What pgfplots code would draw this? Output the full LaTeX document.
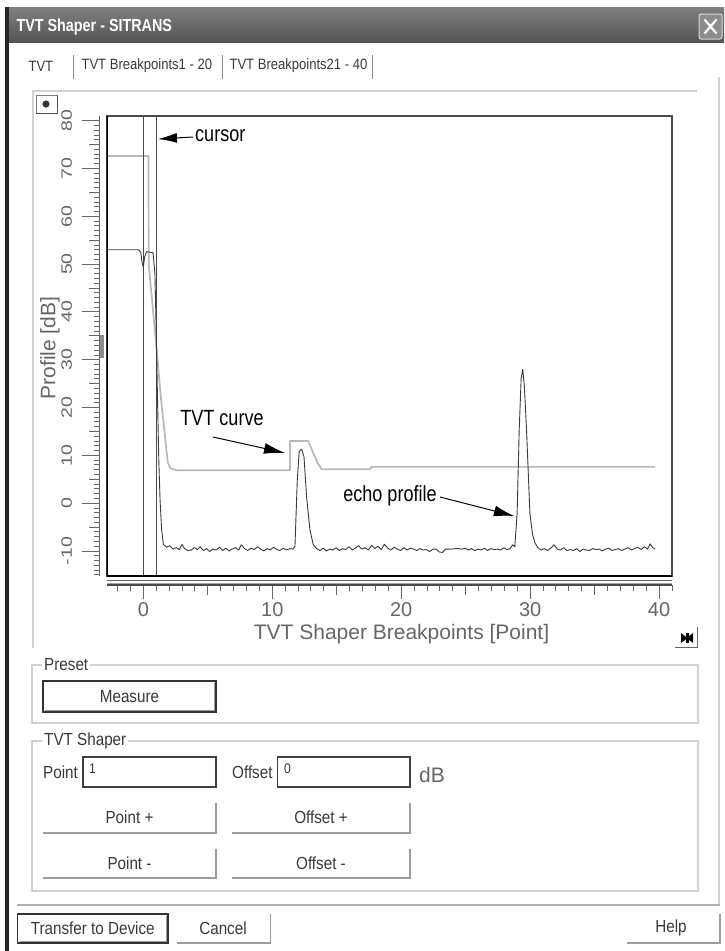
\documentclass[border=0pt]{standalone}
\usepackage{pgfplots}
\pgfplotsset{compat=1.18}
\usepackage{fontspec}
\setmainfont{Liberation Sans}
\newfontfamily\ui[FakeStretch=0.87]{Liberation Sans}
\newfontfamily\cond[FakeStretch=0.82]{Liberation Sans}
\usetikzlibrary{arrows.meta}
\newcommand\fs[1]{\fontsize{#1}{#1}\selectfont}
\definecolor{titlebar}{HTML}{555555}
\definecolor{tickgrey}{HTML}{666666}
\definecolor{tvt}{HTML}{B8B8B8}
\definecolor{echo}{HTML}{3A3A3A}
\definecolor{framec}{HTML}{4A4A4A}
\definecolor{lightline}{HTML}{D2D2D2}
\definecolor{btnline}{HTML}{9C9C9C}
\definecolor{uitext}{HTML}{3A3A3A}

\pgfplotstableread{
x y
-2.84 72.6
0.40 72.6
0.42 50.0
0.85 37.5
1.40 21.0
1.90 8.5
2.10 7.3
2.60 6.9
11.37 6.9
11.37 13.0
12.79 13.0
13.10 11.0
13.50 8.5
13.83 7.1
17.57 7.1
17.70 7.6
39.67 7.6
}\tvtdata

\pgfplotstableread{
x y
-2.84 53.0
-0.40 53.0
-0.20 52.5
-0.10 50.5
0.00 49.3
0.10 51.5
0.25 52.6
0.75 52.4
0.90 48.0
1.00 36.0
1.10 22.0
1.20 9.0
1.30 0.5
1.42 -5.5
1.55 -8.6
1.80 -9.2
2.05 -8.9
2.30 -9.6
2.55 -9.3
2.80 -9.7
3.00 -8.6
3.20 -9.5
3.45 -9.9
3.70 -9.8
3.95 -9.3
4.20 -9.7
4.40 -9.1
4.65 -9.9
4.90 -9.5
5.15 -10.1
5.40 -9.6
5.65 -9.8
5.90 -9.2
6.15 -9.9
6.40 -9.4
6.65 -10.0
6.90 -9.6
7.15 -9.3
7.40 -9.8
7.60 -8.7
7.85 -9.5
8.10 -9.9
8.35 -9.4
8.60 -9.7
8.85 -9.1
9.10 -9.6
9.35 -10.0
9.60 -9.5
9.85 -9.8
10.10 -9.2
10.35 -9.7
10.60 -9.9
10.85 -9.4
11.10 -9.8
11.35 -9.5
11.60 -9.6
11.76 -9.0
11.94 4.8
12.09 10.8
12.28 11.3
12.46 9.7
12.66 1.4
12.92 -5.6
13.18 -8.7
13.44 -9.5
13.70 -9.9
13.95 -9.4
14.20 -10.0
14.45 -9.6
14.70 -9.8
14.95 -9.3
15.20 -9.9
15.45 -9.5
15.70 -9.7
15.95 -9.1
16.20 -9.8
16.45 -9.4
16.70 -8.9
16.95 -9.6
17.20 -9.3
17.45 -9.8
17.70 -8.8
17.95 -9.5
18.20 -9.0
18.45 -9.7
18.70 -8.6
18.95 -9.4
19.20 -9.8
19.45 -9.2
19.70 -9.6
19.95 -9.9
20.20 -9.3
20.45 -9.8
20.70 -9.4
20.95 -9.6
21.20 -9.9
21.45 -9.5
21.70 -9.8
21.95 -9.7
22.20 -10.1
22.45 -9.6
22.70 -9.6
22.95 -10.2
23.20 -10.3
23.45 -9.6
23.70 -9.6
23.95 -9.6
24.20 -9.5
24.45 -9.5
24.70 -9.6
24.95 -9.4
25.20 -9.8
25.45 -9.5
25.70 -9.9
25.95 -9.6
26.20 -9.8
26.45 -9.4
26.70 -9.9
26.95 -9.5
27.20 -9.7
27.45 -9.6
27.70 -9.8
27.95 -9.3
28.20 -9.7
28.45 -9.5
28.65 -8.7
28.81 -9.1
28.99 -2.1
29.15 15.3
29.30 26.0
29.42 28.0
29.55 24.5
29.72 15.3
29.98 -2.1
30.18 -6.5
30.37 -8.3
30.60 -9.3
30.85 -9.8
31.10 -9.5
31.35 -9.9
31.60 -9.4
31.85 -8.7
32.10 -9.6
32.35 -9.8
32.60 -9.3
32.85 -9.9
33.10 -9.7
33.35 -9.9
33.60 -9.5
33.85 -10.1
34.10 -9.6
34.35 -9.8
34.60 -9.9
34.85 -9.5
35.10 -9.7
35.35 -9.6
35.60 -10.0
35.85 -9.6
36.10 -9.4
36.35 -9.9
36.60 -9.7
36.85 -9.5
37.10 -9.9
37.35 -9.6
37.60 -9.3
37.85 -9.8
38.10 -9.5
38.35 -9.2
38.60 -9.7
38.85 -9.1
39.10 -9.6
39.30 -8.5
39.50 -9.3
39.70 -9.6
}\echodata

\begin{document}
\begin{tikzpicture}
\path[use as bounding box] (0,0) rectangle (724pt,-951pt);
\fill[white] (0,0) rectangle (724pt,-951pt);
\begin{scope}[x=1pt,y=-1pt]
  % window
  \shade[top color=titlebar!75, bottom color=titlebar] (5,7) rectangle (724,42);
  \fill[black!85] (5,7) rectangle (9,951);
  \node[anchor=west, text=white, font=\cond\bfseries\fs{17.5}] at (13,27) {TVT Shaper - SITRANS};
  \draw[fill=black!45, draw=black!15, rounded corners=2pt, line width=1pt] (699,14) rectangle (722,39);
  \draw[white, line width=2.2pt] (704.5,19.5) -- (716.5,33.5) (716.5,19.5) -- (704.5,33.5);
  \draw[lightline, line width=1.5pt] (719,77) -- (719,905);
  % tabs
  \node[anchor=west, text=uitext, font=\ui\fs{15}] at (25,66) {TVT};
  \draw[black!45, line width=1pt] (73,55) -- (73,79) (222,55) -- (222,79) (372,55) -- (372,79);
  \node[anchor=west, text=uitext, font=\ui\fs{15}] at (78,66) {TVT Breakpoints1 - 20};
  \node[anchor=west, text=uitext, font=\ui\fs{15}] at (226,66) {TVT Breakpoints21 - 40};
  % chart panel
  \draw[lightline, line width=1.5pt] (33,648) -- (33,91) -- (697,91);
  \draw[black!50, line width=0.8pt] (36,95) rectangle (57,113);
  \draw[black!70, line width=1pt] (36,113) -- (57,113) -- (57,95);
  \fill[black!80] (46,104) circle (3.6);
  % bottom right icon
  \draw[black!60, line width=1pt] (675,647) -- (697,647) -- (697,627);
  \fill[black] (681,633) -- (687.5,638) -- (681,643) -- cycle;
  \fill[black] (693,633) -- (686.5,638) -- (693,643) -- cycle;
  \fill[black] (686,633) rectangle (689,643);
  % Preset group
  \draw[lightline, line width=1.3pt] (32,665) rectangle (698,723);
  \node[anchor=west, fill=white, inner sep=2pt, text=uitext, font=\ui\fs{17.5}] at (42,665) {Preset};
  \draw[black!80, line width=1.6pt] (43,681) rectangle (216,712);
  \draw[black!40, line width=1pt] (45,710) -- (214,710) -- (214,683);
  \node[text=uitext, font=\ui\fs{17.5}] at (129.5,697) {Measure};
  % TVT Shaper group
  \draw[lightline, line width=1.3pt] (32,741) rectangle (698,891);
  \node[anchor=west, fill=white, inner sep=2pt, text=uitext, font=\ui\fs{17.5}] at (42,741) {TVT Shaper};
  \node[anchor=west, inner sep=0pt, text=uitext, font=\ui\fs{17.5}] at (43,772) {Point};
  \draw[black!75, line width=1.3pt] (83,757) rectangle (216,787);
  \node[anchor=west, inner sep=0pt, text=uitext, font=\ui\fs{14}] at (89,769) {1};
  \node[anchor=west, inner sep=0pt, text=uitext, font=\ui\fs{17.5}] at (232,772) {Offset};
  \draw[black!75, line width=1.3pt] (277.5,757) rectangle (410,787);
  \node[anchor=west, inner sep=0pt, text=uitext, font=\ui\fs{14}] at (284,769) {0};
  \node[text=black!60, font=\fs{21}] at (432,775) {dB};
  % flat buttons
  \draw[btnline, line width=1.5pt] (43,833) -- (216,833) -- (216,803);
  \draw[btnline, line width=1.5pt] (232,833) -- (410,833) -- (410,803);
  \draw[btnline, line width=1.5pt] (43,878) -- (216,878) -- (216,849);
  \draw[btnline, line width=1.5pt] (232,878) -- (410,878) -- (410,849);
  \node[text=uitext, font=\ui\fs{17.5}] at (129.5,817) {Point +};
  \node[text=uitext, font=\ui\fs{17.5}] at (321,817) {Offset +};
  \node[text=uitext, font=\ui\fs{17.5}] at (129.5,863) {Point -};
  \node[text=uitext, font=\ui\fs{17.5}] at (321,863) {Offset -};
  % bottom row
  \draw[black!30, line width=1.5pt] (17,905) -- (720,905);
  \draw[black!80, line width=1.6pt] (17.6,914) rectangle (168,943);
  \draw[black!40, line width=1pt] (19.5,941) -- (166,941) -- (166,916);
  \node[text=uitext, font=\ui\fs{17.5}] at (92.8,928) {Transfer to Device};
  \draw[btnline, line width=1.5pt] (177,943) -- (270.6,943) -- (270.6,914);
  \node[text=uitext, font=\ui\fs{17.5}] at (223,928) {Cancel};
  \draw[btnline, line width=1.5pt] (627,943) -- (720,943) -- (720,914);
  \node[text=uitext, font=\ui\fs{17.5}] at (671,928) {Help};
\end{scope}

% main plot area
\begin{axis}[
  at={(106.7pt,-576pt)}, anchor=south west,
  scale only axis, width=565.3pt, height=460pt,
  xmin=-2.84, xmax=41, ymin=-15.23, ymax=80.98,
  ticks=none,
  axis line style={draw=framec, line width=1.2pt},
  clip=true,
]
\addplot[tvt, line width=1.7pt, line join=round] table[x=x,y=y] {\tvtdata};
\addplot[framec, line width=1.3pt] coordinates {(0,-15.23) (0,80.98)};
\addplot[framec, line width=1.3pt] coordinates {(1,-15.23) (1,80.98)};
\addplot[echo, line width=0.9pt, line join=round] table[x=x,y=y] {\echodata};
\draw[black, line width=2.2pt] (rel axis cs:0,0) -- (rel axis cs:0,1);
\draw[black, line width=1.6pt] (rel axis cs:0,0) -- (rel axis cs:1,0);
\end{axis}

% x ruler
\begin{axis}[
  at={(106.7pt,-585pt)}, anchor=south west,
  scale only axis, width=565.3pt, height=5pt,
  xmin=-2.84, xmax=41, ymin=0, ymax=1,
  hide y axis, axis x line*=bottom,
  x axis line style={draw=framec, line width=1.2pt, -},
  tick align=outside,
  xtick={0,10,20,30,40},
  minor xtick={-2,-1,...,41},
  extra x ticks={5,15,25,35},
  extra x tick labels={},
  extra x tick style={major tick length=10pt},
  major tick length=14pt, minor tick length=6pt,
  tick style={draw=tickgrey, line width=1pt},
  xticklabel style={font=\fs{20}, text=tickgrey},
  /pgf/number format/assume math mode=true,
]
\addplot[draw=none] coordinates {(0,0)};
\end{axis}

% y ruler
\begin{axis}[
  at={(99.5pt,-576pt)}, anchor=south west,
  scale only axis, width=4pt, height=460pt,
  xmin=0, xmax=1, ymin=-15.23, ymax=80.98,
  hide x axis, axis y line*=left,
  y axis line style={draw=tickgrey, line width=1.5pt, -},
  tick align=outside,
  ytick={-10,0,...,80},
  minor ytick={-15,-14,...,80},
  extra y ticks={-5,5,15,25,35,45,55,65,75},
  extra y tick labels={},
  extra y tick style={major tick length=11pt},
  major tick length=18pt, minor tick length=6pt,
  tick style={draw=tickgrey, line width=0.9pt},
  yticklabel shift=6pt,
  yticklabel style={rotate=90, anchor=south, font=\fs{15}, text=tickgrey},
  yticklabel={\scalebox{1.3}[1]{\pgfmathprintnumber{\tick}}},
  /pgf/number format/assume math mode=true,
]
\addplot[draw=none] coordinates {(0,0)};
\end{axis}

\begin{scope}[x=1pt,y=-1pt]
  % ruler band under x
  \draw[tickgrey, line width=1pt] (107,580.3) -- (672,580.3);
  \draw[black!35, line width=0.8pt] (107,583) -- (672,583);
  % scroll thumb on y ruler
  \fill[black!45] (99.5,335) rectangle (104,358);
  % axis labels
  \node[text=tickgrey, font=\fs{21}] at (401.5,634) {TVT Shaper Breakpoints [Point]};
  \node[text=tickgrey, font=\fs{21}, rotate=90] at (50,348) {Profile [dB]};
  % annotations
  \draw[-{Latex[length=19pt,width=10pt]}, line width=1pt] (193,137) -- (158,139);
  \node[anchor=west, font=\cond\fs{22}, inner sep=1pt] at (194,136) {cursor};
  \node[font=\cond\fs{22}] at (222,418) {TVT curve};
  \draw[-{Latex[length=21pt,width=11pt]}, line width=1pt] (213,437) -- (285,453);
  \node[font=\cond\fs{22}] at (390,496) {echo profile};
  \draw[-{Latex[length=20pt,width=11pt]}, line width=1pt] (440,497) -- (514,516);
\end{scope}
\end{tikzpicture}
\end{document}
